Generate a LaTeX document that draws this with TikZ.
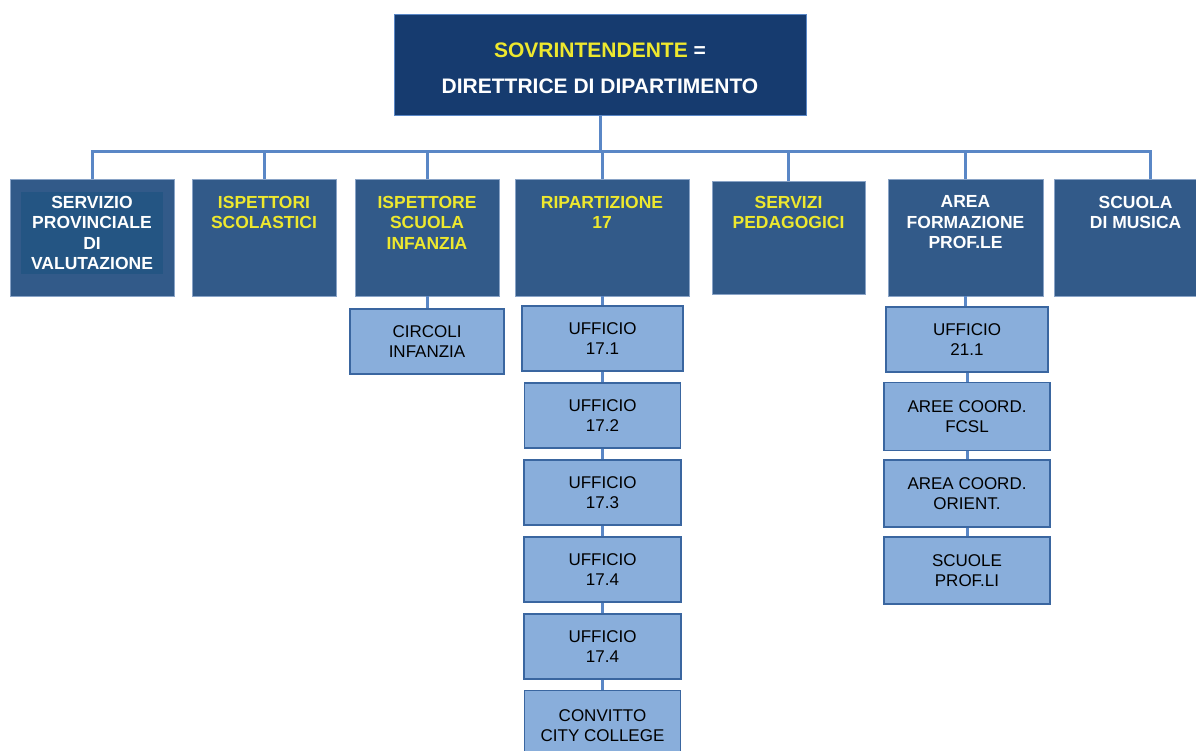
\documentclass[tikz,border=0pt]{standalone}
\usepackage{fontspec}
\setmainfont{Liberation Sans}
\usetikzlibrary{positioning}
\definecolor{blunotte}{RGB}{22,59,111}
\definecolor{bluscuro}{RGB}{50,90,137}
\definecolor{bluinterno}{RGB}{36,85,131}
\definecolor{bluchiaro}{RGB}{137,174,219}
\definecolor{bordo}{RGB}{58,102,160}
\definecolor{linea}{RGB}{90,135,198}
\definecolor{giallo}{RGB}{238,232,46}

\begin{document}
\begin{tikzpicture}[x=1pt,y=-1pt,thin]
\tikzstyle{capo}=[fill=blunotte,draw=linea,line width=0.8pt,minimum width=412pt,minimum height=101pt]
\tikzstyle{servizio}=[fill=bluscuro,draw=bordo!60!white,line width=0.8pt,minimum height=117pt,inner sep=0pt]
\tikzstyle{titolo}=[text=giallo,font=\bfseries\fontsize{17.5}{20.5}\selectfont,align=center,inner sep=0pt]
\tikzstyle{ufficio}=[fill=bluchiaro,draw=bordo,line width=1.5pt,text=black,font=\fontsize{17}{20}\selectfont,align=center,minimum height=65pt]
\tikzstyle{filo}=[draw=linea,line width=3pt]

\useasboundingbox (0,0) rectangle (1196,751);
\clip (0,0) rectangle (1196,751);

% vertice
\node[capo]		(sov) at (600,64.5) {};
\node[titolo,text=white,font=\bfseries\fontsize{21}{36}\selectfont]	(sov-t) at ([yshift=-3.5pt]sov.center) {{\color{giallo}SOVRINTENDENTE} =\\DIRETTRICE DI DIPARTIMENTO};
\coordinate	(bus) at (600,152);

% primo livello
\node[servizio,minimum width=164pt]	(spv) at (92,237.5) {};
\node[servizio,minimum width=144pt]	(isp) [right of=spv, node distance=172pt] {};
\node[servizio,minimum width=144pt]	(ispi) [right of=isp, node distance=163pt] {};
\node[servizio,minimum width=174pt]	(rip) [right of=ispi, node distance=175pt] {};
\node[servizio,minimum width=153pt,minimum height=113pt]	(sped) [right of=rip, node distance=186.5pt] {};
\node[servizio,minimum width=155pt]	(afp) [right of=sped, node distance=177pt] {};
\node[servizio,minimum width=192pt]	(smus) [right of=afp, node distance=184.5pt] {};

\node[fill=bluinterno,minimum width=142pt,minimum height=82pt,inner sep=0pt] (spv-in) at (92,233) {};
\node[titolo,text=white,below=17pt of spv.north]	(spv-t) {SERVIZIO\\PROVINCIALE\\DI\\VALUTAZIONE};
\node[titolo,below=17pt of isp.north]	(isp-t) {ISPETTORI\\SCOLASTICI};
\node[titolo,below=17pt of ispi.north]	(ispi-t) {ISPETTORE\\SCUOLA\\INFANZIA};
\node[titolo,below=17pt of rip.north]	(rip-t) {RIPARTIZIONE\\17};
\node[titolo,below=15pt of sped.north]	(sped-t) {SERVIZI\\PEDAGOGICI};
\node[titolo,text=white,below=17pt of afp.north]	(afp-t) {AREA\\FORMAZIONE\\PROF.LE};
\node[titolo,text=white,below=17pt of afp.north-|smus.north west,xshift=82pt,anchor=north]	(smus-t) {SCUOLA\\DI MUSICA};

% secondo livello
\node[ufficio,minimum width=154pt]	(circ) at (427,341.5) {CIRCOLI\\INFANZIA};

\node[ufficio,minimum width=161pt]	(u171) at (602.5,338.5) {UFFICIO\\17.1};
\node[ufficio,minimum width=156pt]	(u172) [below of=u171, node distance=77pt] {UFFICIO\\17.2};
\node[ufficio,minimum width=157pt]	(u173) [below of=u172, node distance=77pt] {UFFICIO\\17.3};
\node[ufficio,minimum width=157pt]	(u174) [below of=u173, node distance=77pt] {UFFICIO\\17.4};
\node[ufficio,minimum width=157pt]	(u174b) [below of=u174, node distance=77pt] {UFFICIO\\17.4};
\node[ufficio,minimum width=156pt,minimum height=70pt]	(conv) [below of=u174b, node distance=79pt] {CONVITTO\\CITY COLLEGE};

\node[ufficio,minimum width=162pt]	(u211) at (967,339.5) {UFFICIO\\21.1};
\node[ufficio,minimum width=166pt,minimum height=68pt]	(fcsl) [below of=u211, node distance=77pt] {AREE COORD.\\FCSL};
\node[ufficio,minimum width=166pt,minimum height=67pt]	(orient) [below of=fcsl, node distance=77pt] {AREA COORD.\\ORIENT.};
\node[ufficio,minimum width=166pt,minimum height=67pt]	(sprof) [below of=orient, node distance=77pt] {SCUOLE\\PROF.LI};

% collegamenti
\draw[filo] (sov.south) -- (bus);
\foreach \n in {spv,isp,ispi,rip,sped,afp,smus}
	\draw[filo] (bus) -| (\n.north);
\draw[filo] (ispi.south) -- (circ.north);
\draw[filo] (rip.south) -- (rip.south|-u171.north);
\draw[filo] (afp.south) -- (afp.south|-u211.north);
\foreach \a/\b in {u171/u172,u172/u173,u173/u174,u174/u174b,u174b/conv,u211/fcsl,fcsl/orient,orient/sprof}
	\draw[filo] (\a.south) -- (\b.north);
\end{tikzpicture}
\end{document}
